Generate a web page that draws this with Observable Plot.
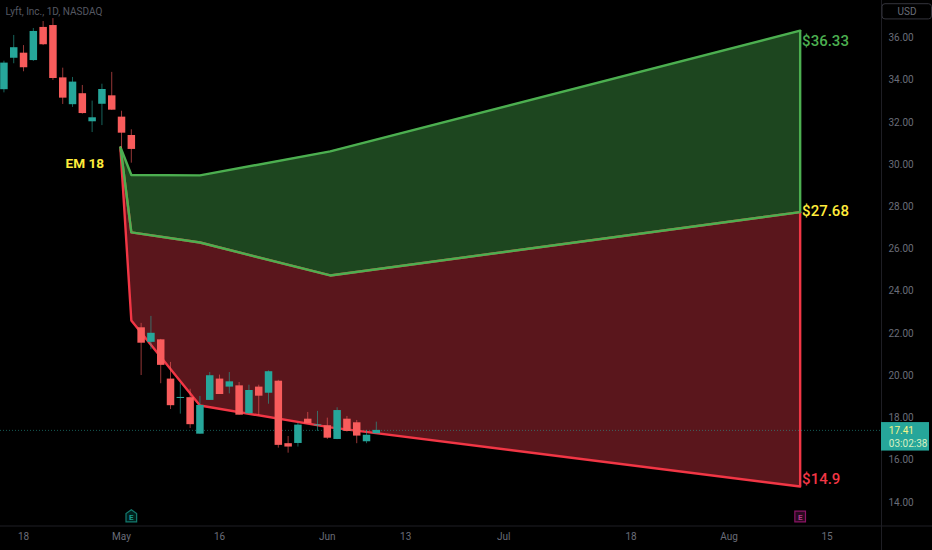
<!DOCTYPE html>
<html><head><meta charset="utf-8">
<script src="https://cdn.jsdelivr.net/npm/d3@7"></script>
<script src="https://cdn.jsdelivr.net/npm/@observablehq/plot@0.6"></script>
<style>html,body{margin:0;padding:0;background:#000;overflow:hidden}svg{display:block}</style>
</head><body><div id="chart"></div>
<script>
// Trading-bar index, 0 = first bar of May
const barIndex = d3.range(-12, 27);
const bodyTop = [34.81,35.54,35.28,36.31,36.50,36.59,34.11,33.91,33.36,32.22,33.56,33.26,32.25,31.38,22.27,22.01,21.70,19.84,18.97,18.96,18.59,20.00,19.84,19.71,19.52,19.30,19.46,20.19,19.74,16.78,17.66,17.94,17.67,17.63,18.35,17.94,17.77,17.18,17.41];
const bodyBottom = [33.55,35.04,34.59,34.93,35.68,34.08,33.15,32.84,32.42,32.03,32.86,32.58,31.49,30.72,21.54,21.58,20.49,18.58,18.92,17.68,17.23,18.83,19.11,19.46,18.13,18.20,19.03,19.17,16.70,16.62,16.79,17.72,17.63,17.04,16.98,17.36,17.14,16.87,17.25];
const high = [34.90,36.12,35.64,36.45,36.78,36.92,34.57,34.13,33.75,33.01,33.81,34.37,32.53,31.65,22.48,22.81,21.72,20.63,19.62,19.36,19.02,20.15,20.03,20.15,19.68,19.55,19.55,20.23,19.78,17.12,17.75,18.26,18.31,17.99,18.48,18.07,17.88,17.41,17.80];
const low = [33.40,34.78,34.40,34.89,35.64,33.99,32.85,32.71,32.39,31.52,31.85,32.57,30.77,30.07,20.01,21.23,19.62,18.40,18.18,17.50,17.23,18.83,19.11,19.14,18.13,18.17,18.12,18.65,16.57,16.33,16.62,17.72,17.36,16.98,16.97,17.33,16.78,16.78,17.25];
const isUp = [1,1,0,1,0,0,0,1,0,1,1,0,0,0,0,1,0,0,1,0,1,1,0,1,0,1,0,1,0,0,1,0,1,0,1,0,0,1,1];

// Expected-move envelope
const emX = [-0.1,1,8,21.3,69.25];
const emUpper = [30.81,29.51,29.49,30.63,36.35];
const emMiddle = [30.81,26.79,26.31,24.75,27.75];
const emLower = [30.7,22.62,18.59,17.55,14.75];

const yTicks = [14,16,18,20,22,24,26,28,30,32,34,36];
const xTickIdx = [-10,0,10,21,29,39,52,62,72];
const xTickLabels = ["18","May","16","Jun","13","Jul","18","Aug","15"];

const lastPrice = 17.41;
const countdown = "03:02:38";
const labelsText = ["$36.33","$27.68","$14.9"];
const labelsPrice = [35.83,27.78,15.08];
const labelsColor = ["#4caf50","#ffeb3b","#f23645"];

const candles = barIndex.map((i,k)=>({i,top:bodyTop[k],bot:bodyBottom[k],hi:high[k],lo:low[k],c:isUp[k]?"#26a69a":"#f85c5c"}));
const em = emX.map((x,k)=>({x,u:emUpper[k],m:emMiddle[k],l:emLower[k]}));

const FONT = "Roboto, 'Liberation Sans', sans-serif";
const AX = "#1e1e24";
const axisX0 = 77.55, xEnd = 82.8, yMax = 37.776, yBase = 12.88, yEnd = 11.7;

const house = {draw(ctx,size){const r=Math.sqrt(size)/2;
  ctx.moveTo(0,-r*1.25);ctx.lineTo(r,-r*0.55);ctx.lineTo(r,r);ctx.lineTo(-r,r);ctx.lineTo(-r,-r*0.55);ctx.closePath();}};

const chart = Plot.plot({
  width:932,height:550,marginTop:0,marginLeft:0,marginRight:51,marginBottom:24.5,
  style:{background:"#000",fontFamily:FONT},
  x:{domain:[-12.35,axisX0],range:[0,881],label:null},
  y:{domain:[yBase,yMax],range:[525.5,0],label:null},
  marks:[
    Plot.areaY(em,{x:"x",y1:"m",y2:"u",fill:"#1d461f"}),
    Plot.areaY(em,{x:"x",y1:"l",y2:"m",fill:"#5a161c"}),
    Plot.ruleX([emX[4]],{y1:emMiddle[4],y2:emUpper[4],stroke:"#4caf50",strokeWidth:2.4}),
    Plot.ruleX([emX[4]],{y1:emLower[4],y2:emMiddle[4],stroke:"#f23645",strokeWidth:2.4}),
    Plot.line(em,{x:"x",y:"l",stroke:"#f23645",strokeWidth:2.4}),
    Plot.line(em,{x:"x",y:"m",stroke:"#f23645",strokeWidth:2.4}),
    Plot.line(em,{x:"x",y:"u",stroke:"#4caf50",strokeWidth:2.4}),
    Plot.line(em,{x:"x",y:"m",stroke:"#4caf50",strokeWidth:2.4}),
    Plot.ruleY([lastPrice],{x1:-12.35,x2:axisX0,stroke:"#26a69a",strokeOpacity:.55,strokeDasharray:"1,2"}),
    Plot.ruleX(candles,{x:"i",y1:"lo",y2:"hi",stroke:"c",strokeOpacity:.6,strokeWidth:1}),
    Plot.ruleX(candles,{x:"i",y1:"bot",y2:"top",stroke:"c",strokeWidth:7.5}),
    Plot.ruleX([axisX0],{y1:yEnd,y2:yMax,stroke:AX,clip:false}),
    Plot.ruleY([yBase],{x1:-12.35,x2:xEnd,stroke:AX}),
    Plot.axisY({anchor:"right",ticks:yTicks,tickSize:0,tickPadding:7,tickFormat:d3.format(".2f"),label:null,fill:"#6a6d78",fontSize:10,textAnchor:"start"}),
    Plot.axisX({anchor:"bottom",ticks:xTickIdx,tickSize:0,tickPadding:7,tickFormat:d=>xTickLabels[xTickIdx.indexOf(d)],label:null,fill:"#6a6d78",fontSize:10}),
    Plot.rect([{}],{x1:axisX0,x2:82.45,y1:16.43,y2:17.78,fill:"#26a69a"}),
    Plot.text([lastPrice],{x:()=>78.3,y:()=>17.38,text:d=>String(d),textAnchor:"start",fill:"#f5f58a",fontSize:10}),
    Plot.text([countdown],{x:()=>78.3,y:()=>16.79,text:d=>d,textAnchor:"start",fill:"#d5f0c0",fontSize:10}),
    Plot.rect([{}],{x1:77.65,x2:82.7,y1:36.88,y2:37.6,fill:"none",stroke:"#34343c",rx:3}),
    Plot.text(["USD"],{x:()=>80.15,y:()=>37.22,text:d=>d,fill:"#6a6d78",fontSize:10}),
    Plot.text(labelsText,{x:()=>69.45,y:(d,k)=>labelsPrice[k],text:d=>d,fill:(d,k)=>labelsColor[k],textAnchor:"start",fontSize:15,fontWeight:500,fontFamily:"Roboto, sans-serif"}),
    Plot.text(["EM 18"],{x:()=>-5.71,y:()=>30.05,text:d=>d,textAnchor:"start",fill:"#ffeb3b",fontSize:13.6,fontWeight:700,fontFamily:"Roboto, sans-serif"}),
    Plot.text(["Lyft, Inc., 1D, NASDAQ"],{x:()=>-11.85,y:()=>37.25,text:d=>d,textAnchor:"start",fill:"#555862",fontSize:10,fontFamily:"'Liberation Sans Narrow', Roboto, sans-serif"}),
    Plot.dot([1],{x:d=>d,y:()=>13.33,symbol:()=>house,r:6,stroke:"#137a6f",fill:"#00201d",strokeWidth:1.2}),
    Plot.text(["E"],{x:()=>1,y:()=>13.3,text:d=>d,fill:"#1a9a8e",fontSize:8,fontWeight:700}),
    Plot.dot([69.25],{x:d=>d,y:()=>13.33,symbol:"square",r:6,stroke:"#8c1466",fill:"#2a0a20",strokeWidth:1.2}),
    Plot.text(["E"],{x:()=>69.25,y:()=>13.3,text:d=>d,fill:"#b3398a",fontSize:8,fontWeight:700})
  ]
});
document.getElementById("chart").append(chart);
</script></body></html>
